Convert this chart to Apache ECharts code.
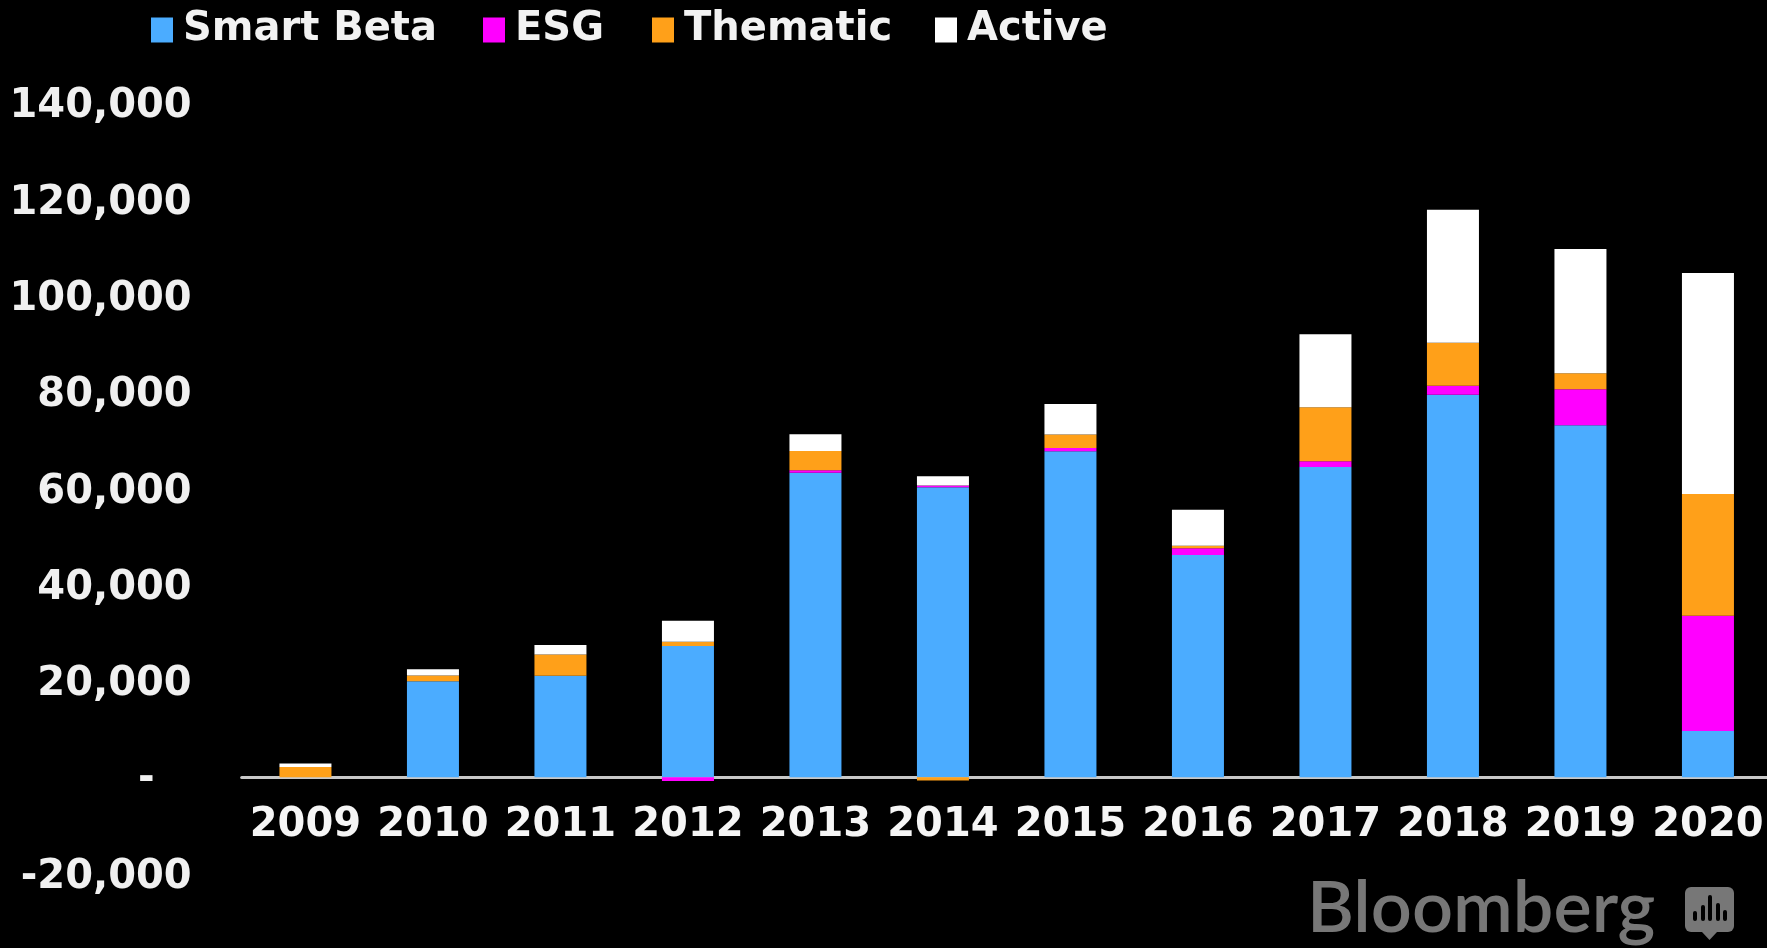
<!DOCTYPE html>
<html>
<head>
<meta charset="utf-8">
<title>Bloomberg chart</title>
<script src="https://cdn.jsdelivr.net/npm/echarts@6/dist/echarts.min.js"></script>
<style>
    html, body { margin: 0; padding: 0; background: #000; }
    #chart { width: 1767px; height: 948px; }
</style>
</head>
<body>
<div id="chart"></div>
<script>
var years = ['2009', '2010', '2011', '2012', '2013', '2014', '2015', '2016', '2017', '2018', '2019', '2020'];
var smartBeta = [0, 19900, 21050, 27230, 63230, 60190, 67680, 46140, 64400, 79400, 73070, 9600];
var esg = [0, 0, 0, -800, 500, 400, 700, 1400, 1200, 1900, 7500, 23900];
var thematic = [2100, 1200, 4450, 900, 4000, -700, 2800, 500, 11200, 8900, 3300, 25300];
var active = [750, 1300, 1930, 4360, 3500, 1900, 6300, 7500, 15200, 27630, 25800, 45900];

var fontName = '"DejaVu Sans"';
var myChart = echarts.init(document.getElementById('chart'));

function makeLegend(name, left) {
    return {
        data: [name],
        left: left,
        top: 10,
        padding: 0,
        icon: 'rect',
        itemWidth: 22,
        itemHeight: 25,
        selectedMode: false,
        textStyle: {
            color: '#f2f2f2',
            fontFamily: fontName,
            fontWeight: 'bold',
            fontSize: 40,
            padding: [0, 0, 0, 5]
        }
    };
}

function makeSeries(name, values, color) {
    return {
        name: name,
        type: 'bar',
        stack: 'total',
        barWidth: 52,
        data: values,
        itemStyle: { color: color }
    };
}

var option = {
    backgroundColor: '#000',
    animation: false,
    legend: [
        makeLegend('Smart Beta', 151),
        makeLegend('ESG', 483),
        makeLegend('Thematic', 652),
        makeLegend('Active', 935)
    ],
    grid: { left: 241.7, width: 1530, top: 103, bottom: 74.5, outerBoundsMode: 'none' },
    xAxis: {
        type: 'category',
        data: years,
        axisLine: { show: true, onZero: true, lineStyle: { color: '#c8c8c8', width: 3 } },
        axisTick: { show: false },
        axisLabel: {
            interval: 0,
            margin: -68,
            color: '#f5f5f5',
            fontFamily: fontName,
            fontWeight: 'bold',
            fontSize: 40
        }
    },
    yAxis: {
        type: 'value',
        min: -20000,
        max: 140000,
        interval: 20000,
        axisLine: { show: false },
        axisTick: { show: false },
        splitLine: { show: false },
        axisLabel: {
            margin: 50,
            formatter: function (v) {
                // zero is written as a dash, set in from the right edge
                return v === 0 ? '{b|-}' : '{a|' + echarts.format.addCommas(v) + '}';
            },
            rich: {
                a: {
                    padding: [8, 0, 0, 0],
                    color: '#f0f0f0',
                    fontFamily: fontName,
                    fontWeight: 'bold',
                    fontSize: 40
                },
                b: {
                    padding: [4, 37, 0, 0],
                    color: '#f0f0f0',
                    fontFamily: fontName,
                    fontWeight: 'bold',
                    fontSize: 40
                }
            }
        }
    },
    series: [
        makeSeries('Smart Beta', smartBeta, '#4bacff'),
        makeSeries('ESG', esg, '#ff00ff'),
        makeSeries('Thematic', thematic, '#ffa019'),
        makeSeries('Active', active, '#ffffff')
    ],
    graphic: [
        {
            type: 'text',
            left: 1307,
            top: 873,
            style: { text: 'Bloomberg', fill: '#777', font: '600 72px Lato' }
        },
        {
            type: 'rect',
            shape: { x: 1685, y: 887, width: 49, height: 45, r: 6 },
            style: { fill: '#777' }
        },
        {
            type: 'polygon',
            shape: { points: [[1702, 932], [1717, 932], [1709.5, 940]] },
            style: { fill: '#777' }
        },
        { type: 'rect', shape: { x: 1693, y: 911, width: 4, height: 10, r: 2 }, style: { fill: '#000' } },
        { type: 'rect', shape: { x: 1701, y: 905, width: 4, height: 16, r: 2 }, style: { fill: '#000' } },
        { type: 'rect', shape: { x: 1708, y: 895, width: 4, height: 26, r: 2 }, style: { fill: '#000' } },
        { type: 'rect', shape: { x: 1716, y: 903, width: 4, height: 18, r: 2 }, style: { fill: '#000' } },
        { type: 'rect', shape: { x: 1723, y: 910, width: 4, height: 11, r: 2 }, style: { fill: '#000' } }
    ]
};

myChart.setOption(option);
</script>
</body>
</html>
